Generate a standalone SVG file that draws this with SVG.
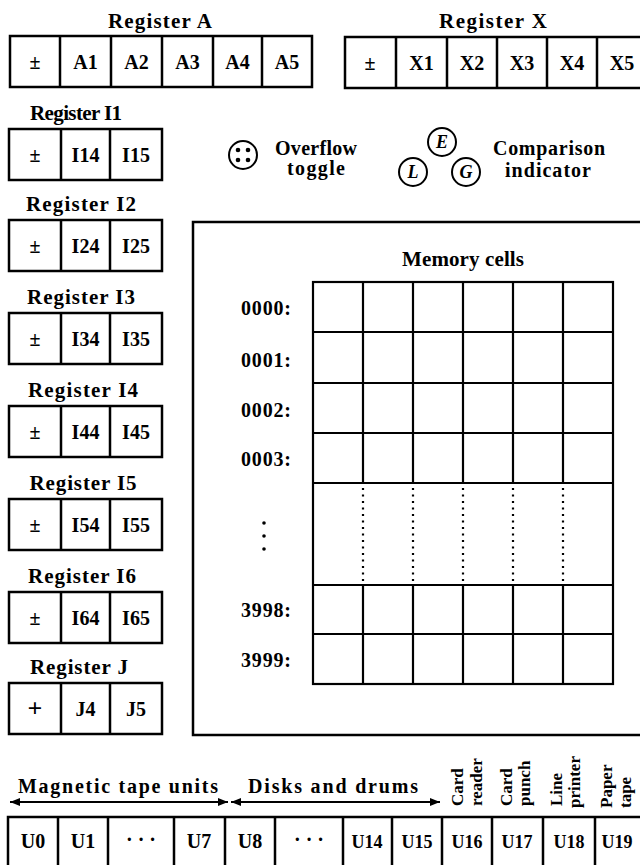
<svg xmlns="http://www.w3.org/2000/svg" width="640" height="865" viewBox="0 0 640 865">
<style>
text{font-family:"Liberation Serif","Times New Roman",serif;font-weight:bold;fill:#000}
.lbl{font-size:21px;text-anchor:middle}
.cell{font-size:20px;text-anchor:middle}
.unit{font-size:18px;text-anchor:middle}
.addr{font-size:20px;text-anchor:end}
.side{font-size:20px;text-anchor:middle}
.grp{font-size:20px;text-anchor:middle}
.rot{font-size:17px}
.box{fill:none;stroke:#000;stroke-width:2.5}
.ln{fill:none;stroke:#000;stroke-width:2.5}
.grid{fill:none;stroke:#000;stroke-width:2.2}
.dots{fill:none;stroke:#000;stroke-width:2.2;stroke-dasharray:2 4.5}
.circ{fill:none;stroke:#000;stroke-width:2}
.arr{fill:none;stroke:#000;stroke-width:2}
</style>
<defs>
<marker id="ah" markerUnits="userSpaceOnUse" markerWidth="10" markerHeight="8" refX="10" refY="4" orient="auto-start-reverse">
<path d="M0,0 L10,4 L0,8 z" fill="#000"/>
</marker>
</defs>
<rect width="640" height="865" fill="#fff"/>

<g id="regA">
<text class="lbl" x="160" y="28" textLength="104">Register A</text>
<rect class="box" x="10" y="36" width="302" height="51"/>
<path class="ln" d="M60 36V87M111 36V87M162 36V87M213 36V87M262 36V87"/>
<text class="cell" x="35" y="69">±</text>
<text class="cell" x="85.5" y="69">A1</text>
<text class="cell" x="136.5" y="69">A2</text>
<text class="cell" x="187.5" y="69">A3</text>
<text class="cell" x="237.5" y="69">A4</text>
<text class="cell" x="287" y="69">A5</text>
</g>

<g id="regX">
<text class="lbl" x="493" y="28" textLength="108">Register X</text>
<rect class="box" x="345" y="37" width="303" height="51"/>
<path class="ln" d="M396 37V88M447 37V88M497 37V88M547 37V88M597 37V88"/>
<text class="cell" x="370" y="70">±</text>
<text class="cell" x="421.5" y="70">X1</text>
<text class="cell" x="472" y="70">X2</text>
<text class="cell" x="522" y="70">X3</text>
<text class="cell" x="572" y="70">X4</text>
<text class="cell" x="622" y="70">X5</text>
</g>

<g id="regI1">
<text class="lbl" x="76" y="120" textLength="92">Register I1</text>
<rect class="box" x="9" y="129" width="153" height="51"/>
<path class="ln" d="M61 129V180M110 129V180"/>
<text class="cell" x="35" y="162">±</text>
<text class="cell" x="85.5" y="162">I14</text>
<text class="cell" x="136" y="162">I15</text>
</g>

<g id="regI2">
<text class="lbl" x="81" y="211" textLength="110">Register I2</text>
<rect class="box" x="9" y="220" width="153" height="51"/>
<path class="ln" d="M61 220V271M110 220V271"/>
<text class="cell" x="35" y="253">±</text>
<text class="cell" x="85.5" y="253">I24</text>
<text class="cell" x="136" y="253">I25</text>
</g>

<g id="regI3">
<text class="lbl" x="81" y="304" textLength="108">Register I3</text>
<rect class="box" x="9" y="313" width="153" height="51"/>
<path class="ln" d="M61 313V364M110 313V364"/>
<text class="cell" x="35" y="346">±</text>
<text class="cell" x="85.5" y="346">I34</text>
<text class="cell" x="136" y="346">I35</text>
</g>

<g id="regI4">
<text class="lbl" x="83" y="397" textLength="110">Register I4</text>
<rect class="box" x="9" y="406" width="153" height="51"/>
<path class="ln" d="M61 406V457M110 406V457"/>
<text class="cell" x="35" y="439">±</text>
<text class="cell" x="85.5" y="439">I44</text>
<text class="cell" x="136" y="439">I45</text>
</g>

<g id="regI5">
<text class="lbl" x="83" y="490" textLength="107">Register I5</text>
<rect class="box" x="9" y="499" width="153" height="51"/>
<path class="ln" d="M61 499V550M110 499V550"/>
<text class="cell" x="35" y="532">±</text>
<text class="cell" x="85.5" y="532">I54</text>
<text class="cell" x="136" y="532">I55</text>
</g>

<g id="regI6">
<text class="lbl" x="82" y="583" textLength="108">Register I6</text>
<rect class="box" x="9" y="592" width="153" height="51"/>
<path class="ln" d="M61 592V643M110 592V643"/>
<text class="cell" x="35" y="625">±</text>
<text class="cell" x="85.5" y="625">I64</text>
<text class="cell" x="136" y="625">I65</text>
</g>

<g id="regJ">
<text class="lbl" x="79" y="674" textLength="98">Register J</text>
<rect class="box" x="9" y="683" width="153" height="51"/>
<path class="ln" d="M61 683V734M110 683V734"/>
<text class="cell" x="35" y="717" style="font-size:26px">+</text>
<text class="cell" x="85.5" y="716">J4</text>
<text class="cell" x="136" y="716">J5</text>
</g>

<g id="overflow">
<circle class="circ" cx="243" cy="155" r="14"/>
<circle cx="238" cy="150" r="2.3"/>
<circle cx="248" cy="150" r="2.3"/>
<circle cx="238" cy="160" r="2.3"/>
<circle cx="248" cy="160" r="2.3"/>
<text class="side" x="316" y="155" textLength="82">Overflow</text>
<text class="side" x="316" y="175" textLength="58">toggle</text>
</g>

<g id="comparison">
<circle class="circ" cx="442" cy="142" r="14"/>
<text class="side" x="442" y="148" style="font-style:italic;font-size:18px">E</text>
<circle class="circ" cx="413" cy="172" r="14"/>
<text class="side" x="413" y="178" style="font-style:italic;font-size:18px">L</text>
<circle class="circ" cx="466" cy="172" r="14"/>
<text class="side" x="466" y="178" style="font-style:italic;font-size:18px">G</text>
<text class="side" x="549" y="155" textLength="112">Comparison</text>
<text class="side" x="548" y="177" textLength="86">indicator</text>
</g>

<g id="memory">
<path class="ln" d="M648 222H193V735H648"/>
<text class="lbl" x="463" y="266" textLength="122">Memory cells</text>
<rect class="grid" x="313" y="282" width="300" height="402"/>
<path class="grid" d="M313 332H613M313 383H613M313 433H613M313 483H613M313 585H613M313 634H613"/>
<path class="grid" d="M363 282V483M413 282V483M463 282V483M513 282V483M563 282V483"/>
<path class="grid" d="M363 585V684M413 585V684M463 585V684M513 585V684M563 585V684"/>
<path class="dots" d="M363 488V583M413 488V583M463 488V583M513 488V583M563 488V583"/>
<text class="addr" x="291" y="315" textLength="50">0000:</text>
<text class="addr" x="291" y="367" textLength="50">0001:</text>
<text class="addr" x="291" y="417" textLength="50">0002:</text>
<text class="addr" x="291" y="466" textLength="50">0003:</text>
<circle cx="264" cy="523" r="1.8"/>
<circle cx="264" cy="536" r="1.8"/>
<circle cx="264" cy="549" r="1.8"/>
<text class="addr" x="291" y="617" textLength="50">3998:</text>
<text class="addr" x="291" y="667" textLength="50">3999:</text>
</g>

<g id="connectors">
<path class="arr" d="M10 802H228" marker-start="url(#ah)" marker-end="url(#ah)"/>
<path class="arr" d="M231 802H440" marker-start="url(#ah)" marker-end="url(#ah)"/>
</g>

<g id="groupLabels">
<text class="grp" x="118" y="793" textLength="200">Magnetic tape units</text>
<text class="grp" x="333" y="793" textLength="170">Disks and drums</text>
<text class="rot" transform="translate(463,806) rotate(-90)">Card</text>
<text class="rot" transform="translate(482,806) rotate(-90)">reader</text>
<text class="rot" transform="translate(512,806) rotate(-90)">Card</text>
<text class="rot" transform="translate(530,806) rotate(-90)">punch</text>
<text class="rot" transform="translate(562,806) rotate(-90)">Line</text>
<text class="rot" transform="translate(580,808) rotate(-90)">printer</text>
<text class="rot" transform="translate(612,808) rotate(-90)">Paper</text>
<text class="rot" transform="translate(631,808) rotate(-90)">tape</text>
</g>

<g id="units">
<path class="ln" d="M648 817H8V880"/>
<path class="ln" d="M58 817V880M108 817V880M174 817V880M225 817V880M275 817V880M343 817V880M392 817V880M442 817V880M492 817V880M543 817V880M595 817V880"/>
<text class="cell" x="33" y="848">U0</text>
<text class="cell" x="83" y="848">U1</text>
<text class="cell" x="141" y="846">· · ·</text>
<text class="cell" x="199" y="848">U7</text>
<text class="cell" x="250" y="848">U8</text>
<text class="cell" x="309" y="846">· · ·</text>
<text class="unit" x="367" y="848">U14</text>
<text class="unit" x="417" y="848">U15</text>
<text class="unit" x="467" y="848">U16</text>
<text class="unit" x="517" y="848">U17</text>
<text class="unit" x="569" y="848">U18</text>
<text class="unit" x="617" y="848">U19</text>
</g>
</svg>
